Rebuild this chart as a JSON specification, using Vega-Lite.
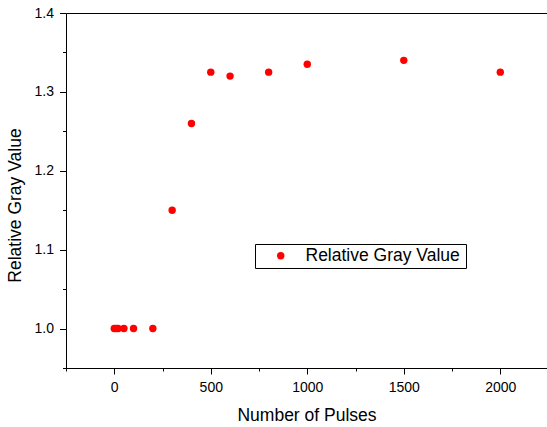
{
  "$schema": "https://vega.github.io/schema/vega-lite/v6.json",
  "autosize": "none",
  "padding": {"left": 66, "top": 13, "right": 0, "bottom": 59},
  "width": 481,
  "height": 355,
  "background": "white",
  "config": {
    "view": {"stroke": null},
    "font": "Liberation Sans",
    "axis": {
      "labelFont": "Liberation Sans",
      "titleFont": "Liberation Sans",
      "labelFontSize": 14,
      "titleFontSize": 17.5,
      "titleFontWeight": "normal",
      "labelColor": "black",
      "titleColor": "black",
      "domainColor": "black",
      "tickColor": "black",
      "domainWidth": 1,
      "tickWidth": 1,
      "grid": false
    }
  },
  "data": {
    "values": [
      {"pulses": 0, "gray": 1.0, "series": "Relative Gray Value"},
      {"pulses": 10, "gray": 1.0, "series": "Relative Gray Value"},
      {"pulses": 20, "gray": 1.0, "series": "Relative Gray Value"},
      {"pulses": 50, "gray": 1.0, "series": "Relative Gray Value"},
      {"pulses": 100, "gray": 1.0, "series": "Relative Gray Value"},
      {"pulses": 200, "gray": 1.0, "series": "Relative Gray Value"},
      {"pulses": 300, "gray": 1.15, "series": "Relative Gray Value"},
      {"pulses": 400, "gray": 1.26, "series": "Relative Gray Value"},
      {"pulses": 500, "gray": 1.325, "series": "Relative Gray Value"},
      {"pulses": 600, "gray": 1.32, "series": "Relative Gray Value"},
      {"pulses": 800, "gray": 1.325, "series": "Relative Gray Value"},
      {"pulses": 1000, "gray": 1.335, "series": "Relative Gray Value"},
      {"pulses": 1500, "gray": 1.34, "series": "Relative Gray Value"},
      {"pulses": 2000, "gray": 1.325, "series": "Relative Gray Value"}
    ]
  },
  "layer": [
    {
      "mark": {"type": "point", "opacity": 0},
      "encoding": {
        "x": {
          "field": "pulses",
          "type": "quantitative",
          "scale": {"domain": [-250, 2242], "nice": false, "zero": false},
          "axis": {"orient": "bottom", "title": null, "labels": false, "domain": false, "values": [-250, 250, 750, 1250, 1750], "tickSize": 3}
        },
        "y": {
          "field": "gray",
          "type": "quantitative",
          "scale": {"domain": [0.95, 1.4], "nice": false, "zero": false},
          "axis": {"orient": "left", "title": null, "labels": false, "domain": false, "values": [0.95, 1.05, 1.15, 1.25, 1.35], "tickSize": 3.5}
        }
      }
    },
    {
      "mark": {"type": "point", "opacity": 0},
      "encoding": {
        "x": {
          "field": "pulses",
          "type": "quantitative",
          "axis": {"orient": "top", "title": null, "labels": false, "ticks": false, "domain": true}
        },
        "y": {"field": "gray", "type": "quantitative", "axis": null}
      }
    },
    {
      "mark": {"type": "point", "filled": true, "shape": "circle", "size": 55, "opacity": 1},
      "encoding": {
        "x": {
          "field": "pulses",
          "type": "quantitative",
          "axis": {
            "orient": "bottom",
            "title": "Number of Pulses",
            "values": [0, 500, 1000, 1500, 2000],
            "format": "d",
            "tickSize": 6,
            "labelPadding": 6,
            "titleY": 52,
            "titleBaseline": "alphabetic",
            "labelFlush": false,
            "labelOverlap": false
          }
        },
        "y": {
          "field": "gray",
          "type": "quantitative",
          "axis": {
            "orient": "left",
            "title": "Relative Gray Value",
            "values": [1.0, 1.1, 1.2, 1.3, 1.4],
            "format": ".1f",
            "tickSize": 6.5,
            "labelPadding": 6,
            "titleX": -46,
            "titleY": 192,
            "titleAlign": "center",
            "titleBaseline": "alphabetic",
            "labelFlush": false,
            "labelOverlap": false
          }
        },
        "color": {
          "field": "series",
          "type": "nominal",
          "scale": {"range": ["#ff0000"]},
          "legend": {
            "orient": "none",
            "legendX": 189,
            "legendY": 231,
            "title": "\u00a0",
            "titleOrient": "right",
            "titleFontSize": 1,
            "titlePadding": 3,
            "strokeColor": "black",
            "fillColor": "white",
            "padding": 3,
            "symbolType": "circle",
            "symbolSize": 55,
            "symbolOffset": 14,
            "labelOffset": 16,
            "labelFont": "Liberation Sans",
            "labelFontSize": 17.5,
            "labelColor": "black"
          }
        }
      }
    }
  ],
  "resolve": {"axis": {"x": "independent", "y": "independent"}}
}
